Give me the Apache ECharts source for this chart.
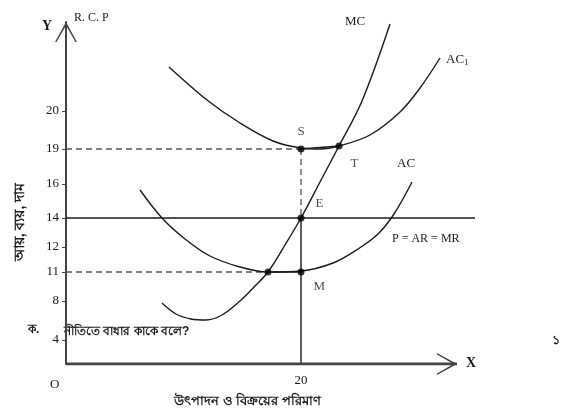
<!DOCTYPE html>
<html>
<head>
<meta charset="utf-8">
<script src="https://cdn.jsdelivr.net/npm/echarts@6/dist/echarts.min.js"></script>
<style>
  html, body { margin: 0; padding: 0; background: #fff; }
  #chart { width: 571px; height: 412px; }
</style>
</head>
<body>
<div id="chart"></div>
<script>
// diagram units: the drawing is schematic, so tick labels sit at their drawn heights
var xTickLabels = ['20'];
var xTickLevels = [23.5];
var yTickLabels = ['4', '8', '11', '12', '14', '16', '19', '20'];
var yTickLevels = [2.4, 6.3, 9.2, 11.7, 14.6, 18.0, 21.5, 25.3];

var mcCurve = [[9.6, 6.1], [11.0, 5.0], [12.5, 4.5], [14.0, 4.4], [15.6, 4.9], [17.4, 6.3],
  [18.9, 7.8], [20.2, 9.2], [21.9, 11.9], [23.5, 14.6], [25.4, 18.2], [27.3, 21.8],
  [29.6, 26.3], [32.4, 34.0]];
var acCurve = [[7.4, 17.4], [9.6, 14.6], [11.9, 12.5], [14.4, 10.8], [17.4, 9.7], [20.2, 9.2],
  [23.5, 9.3], [26.7, 10.1], [29.2, 11.5], [31.2, 13.0], [32.8, 15.0], [34.6, 18.2]];
var ac1Curve = [[10.3, 29.7], [14.1, 26.4], [17.4, 24.1], [20.7, 22.3], [23.5, 21.6], [25.4, 21.5],
  [27.3, 21.8], [30.4, 22.9], [33.4, 25.2], [35.4, 27.6], [37.4, 30.6]];

var xAxisEnd = 39.1;
var priceLevel = 14.6;   // P = AR = MR
var priceLineEnd = 40.9;
var qStar = 23.5;        // output 20
var sLevel = 21.5;       // 19
var tPoint = [27.3, 21.8];
var mLevel = 9.2;        // 11
var acMcCross = [20.2, 9.2];

var pointNames = ['S', 'T', 'E', 'M', ''];
var pointCoords = [[qStar, sLevel], tPoint, [qStar, priceLevel], [qStar, mLevel], acMcCross];

var font = 'Liberation Serif';
var ink = '#1a1a1a';

var chart = echarts.init(document.getElementById('chart'));

var chevron = 'path://M0,20 L11,0 L22,20 L20.5,20 L11,3.5 L1.5,20 Z';

var labelPos = {
  S: { position: 'top', offset: [0, -2] },
  T: { position: 'right', offset: [3, 18] },
  E: { position: 'right', offset: [6, -14] },
  M: { position: 'right', offset: [4, 15] }
};

var points = pointCoords.map(function (c, i) {
  var n = pointNames[i];
  var item = { value: c, name: n };
  if (n) {
    item.label = Object.assign({ show: true, formatter: n }, labelPos[n]);
  }
  return item;
});

function curve(data) {
  return {
    type: 'line', data: data, smooth: 0.35, symbol: 'none',
    lineStyle: { color: ink, width: 1.4 }, z: 3
  };
}
function seg(data, dashed) {
  return {
    type: 'line', data: data, symbol: 'none',
    lineStyle: { color: dashed ? '#555' : ink, width: dashed ? 1.3 : 1.4, type: dashed ? [6, 4] : 'solid' },
    z: 2
  };
}

var option = {
  animation: false,
  backgroundColor: '#fff',
  grid: { left: 66, right: 96, top: 22, bottom: 48 },
  xAxis: {
    type: 'value', min: 0, max: priceLineEnd,
    splitLine: { show: false },
    axisLine: { show: false },
    axisTick: { show: false },
    axisLabel: {
      customValues: xTickLevels,
      formatter: function (v) { return xTickLabels[xTickLevels.indexOf(v)]; },
      fontFamily: font, fontSize: 13, color: ink, margin: 10
    }
  },
  yAxis: {
    type: 'value', min: 0, max: 34.2,
    splitLine: { show: false },
    axisLine: {
      onZero: false,
      lineStyle: { color: '#444', width: 2 },
      symbol: ['none', chevron], symbolSize: [22, 20], symbolOffset: [0, -10]
    },
    axisTick: { show: true, customValues: yTickLevels, length: 4, lineStyle: { color: '#444' } },
    axisLabel: {
      customValues: yTickLevels,
      formatter: function (v) { return yTickLabels[yTickLevels.indexOf(v)]; },
      fontFamily: font, fontSize: 13, color: ink, margin: 7
    }
  },
  series: [
    // x axis line with its open arrow head, stopping short of the price line's end
    {
      type: 'line', symbol: 'none', z: 4,
      lineStyle: { color: '#444', width: 3 },
      itemStyle: { color: '#444' },
      data: [[0, 0], {
        value: [xAxisEnd, 0], symbol: chevron, symbolSize: [22, 20],
        symbolRotate: -90, symbolOffset: [-10, 0]
      }]
    },
    curve(mcCurve),
    curve(acCurve),
    curve(ac1Curve),
    seg([[0, priceLevel], [priceLineEnd, priceLevel]], false),
    seg([[0, sLevel], [qStar, sLevel]], true),
    seg([[qStar, sLevel], tPoint], false),
    seg([[qStar, sLevel], [qStar, priceLevel]], true),
    seg([[qStar, priceLevel], [qStar, 0]], false),
    seg([[0, mLevel], acMcCross], true),
    seg([acMcCross, [qStar, mLevel]], false),
    {
      type: 'scatter', data: points, symbolSize: 7, z: 5,
      itemStyle: { color: '#000' },
      label: { fontFamily: font, fontSize: 13, color: ink }
    }
  ],
  graphic: [
    { type: 'text', left: 42, top: 19, style: { text: 'Y', font: 'bold 14px ' + font, fill: ink } },
    { type: 'text', left: 74, top: 12, style: { text: 'R. C. P', font: '12px ' + font, fill: ink } },
    { type: 'text', left: 345, top: 15, style: { text: 'MC', font: '13px ' + font, fill: ink } },
    {
      type: 'text', left: 446, top: 53,
      style: {
        text: '{a|AC}{s|1}', fill: ink,
        rich: { a: { font: '13px ' + font, fill: ink }, s: { font: '9px ' + font, fill: ink, padding: [6, 0, 0, 0] } }
      }
    },
    { type: 'text', left: 397, top: 157, style: { text: 'AC', font: '13px ' + font, fill: ink } },
    { type: 'text', left: 392, top: 233, style: { text: 'P = AR = MR', font: '12px ' + font, fill: ink } },
    { type: 'text', left: 466, top: 356, style: { text: 'X', font: 'bold 14px ' + font, fill: ink } },
    { type: 'text', left: 50, top: 378, style: { text: 'O', font: '13px ' + font, fill: ink } },
    {
      type: 'text', x: 20, y: 222, rotation: Math.PI / 2,
      style: { text: 'আয়, ব্যয়, দাম', font: 'bold 14px sans-serif', fill: ink, align: 'center', verticalAlign: 'middle' }
    },
    { type: 'text', left: 174, top: 395, style: { text: 'উৎপাদন ও বিক্রয়ের পরিমাণ', font: 'bold 13px sans-serif', fill: ink } },
    { type: 'text', left: 28, top: 324, style: { text: 'ক.', font: 'bold 12px sans-serif', fill: ink } },
    { type: 'text', left: 64, top: 326, style: { text: 'নীতিতে বাধার কাকে বলে?', font: 'bold 12px sans-serif', fill: ink } },
    { type: 'text', left: 552, top: 334, style: { text: '১', font: 'bold 13px sans-serif', fill: ink } }
  ]
};

chart.setOption(option);
</script>
</body>
</html>
